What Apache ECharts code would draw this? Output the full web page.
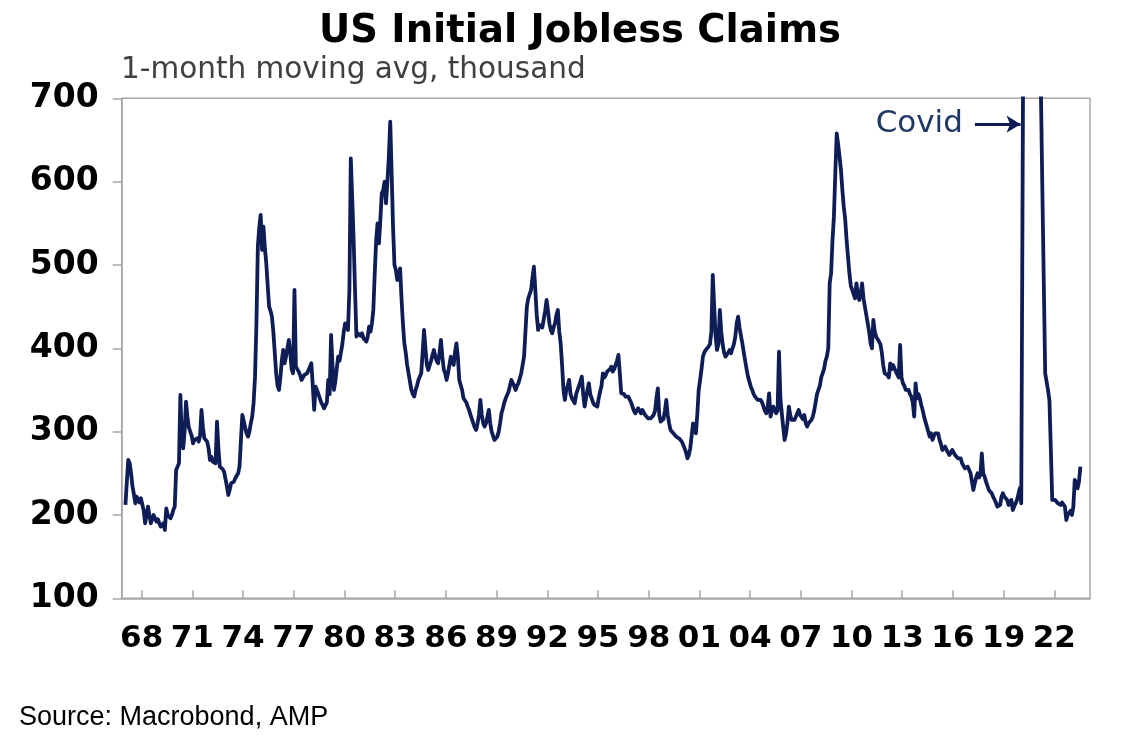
<!DOCTYPE html>
<html>
<head>
<meta charset="utf-8">
<script src="https://cdn.jsdelivr.net/npm/echarts@6/dist/echarts.min.js"></script>
<style>
  html, body { margin: 0; padding: 0; background: #ffffff; }
  #chart { width: 1123px; height: 744px; }
</style>
</head>
<body>
<div id="chart"></div>
<script>
// Monthly 1-month moving average of US initial jobless claims (thousand)
const firstYear = 1967;
const claims1960s = [
  212, 240, 266, 262, 250, 234, 225, 214, 222, 218, 215, 220,   // 1967
  218, 205, 190, 200, 210, 200, 190, 195, 200, 198, 192, 195,   // 1968
  190, 186, 188, 190, 182, 208, 200, 198, 196, 200, 206, 210    // 1969
];
const claims1970s = [
  254, 258, 262, 344, 290, 280, 300, 336, 318, 305, 300, 295,   // 1970
  286, 290, 288, 292, 288, 295, 326, 305, 292, 290, 288, 280,   // 1971
  266, 270, 264, 262, 262, 312, 280, 258, 260, 255, 252, 250,   // 1972
  235, 224, 230, 238, 236, 240, 244, 246, 250, 258, 290, 320,   // 1973
  320, 305, 298, 294, 300, 310, 318, 335, 366, 430, 522, 545,   // 1974
  560, 518, 546, 520, 502, 475, 450, 445, 438, 420, 395, 370,   // 1975
  355, 350, 365, 385, 398, 382, 390, 400, 410, 395, 375, 370,   // 1976
  470, 378, 375, 372, 368, 362, 365, 368, 366, 370, 372, 378,   // 1977
  382, 355, 326, 354, 350, 345, 340, 335, 332, 328, 326, 335,   // 1978
  362, 345, 416, 380, 350, 360, 375, 390, 385, 395, 405, 420    // 1979
];
const claims1980s = [
  430, 425, 422, 470, 628, 580, 530, 470, 414, 418, 420, 415,   // 1980
  418, 412, 410, 408, 414, 426, 420, 430, 446, 490, 530, 550,   // 1981
  526, 555, 586, 590, 600, 574, 600, 630, 672, 610, 545, 500,   // 1982
  494, 482, 485, 496, 460, 430, 406, 395, 380, 370, 360, 350,   // 1983
  345, 342, 350, 355, 362, 360, 370, 395, 422, 400, 380, 374,   // 1984
  374, 385, 392, 398, 390, 385, 382, 395, 410, 390, 375, 370,   // 1985
  362, 370, 380, 390, 385, 380, 395, 406, 390, 362, 360, 350,   // 1986
  340, 338, 335, 330, 326, 320, 315, 310, 305, 302, 310, 320,   // 1987
  338, 320, 310, 306, 310, 318, 326, 310, 300, 295, 290, 292,   // 1988
  294, 300, 310, 322, 328, 335, 340, 342, 348, 355, 362, 358    // 1989
];
const claims1990s = [
  355, 350, 355, 358, 360, 370, 380, 390, 420, 450, 460, 465,   // 1990
  470, 485, 498, 470, 440, 422, 428, 430, 425, 435, 445, 458,   // 1991
  445, 430, 422, 418, 425, 430, 440, 446, 420, 406, 380, 350,   // 1992
  338, 350, 355, 362, 345, 340, 338, 334, 345, 350, 355, 360,   // 1993
  366, 345, 330, 340, 350, 358, 345, 340, 335, 332, 334, 330,   // 1994
  340, 348, 355, 370, 365, 368, 372, 370, 375, 378, 372, 375,   // 1995
  380, 385, 392, 370, 346, 348, 345, 342, 340, 342, 340, 335,   // 1996
  330, 325, 322, 325, 328, 325, 322, 326, 328, 320, 318, 316,   // 1997
  314, 316, 318, 320, 325, 340, 352, 320, 312, 310, 315, 325,   // 1998
  338, 320, 310, 302, 300, 298, 296, 294, 295, 292, 290, 288    // 1999
];
const claims2000s = [
  286, 280, 275, 268, 272, 280, 295, 310, 305, 298, 320, 350,   // 2000
  362, 375, 390, 395, 398, 400, 402, 405, 420, 488, 450, 415,   // 2001
  398, 405, 446, 420, 405, 395, 390, 388, 395, 398, 394, 400,   // 2002
  405, 414, 430, 438, 425, 415, 406, 395, 385, 375, 366, 360,   // 2003
  354, 350, 345, 342, 340, 338, 340, 338, 335, 330, 325, 322,   // 2004
  330, 346, 318, 325, 330, 326, 322, 325, 396, 340, 322, 320,   // 2005
  290, 298, 310, 330, 320, 314, 312, 314, 318, 322, 326, 320,   // 2006
  318, 315, 320, 310, 306, 310, 312, 314, 318, 325, 335, 345,   // 2007
  350, 355, 365, 370, 375, 385, 390, 400, 478, 490, 530, 558,   // 2008
  610, 658, 645, 630, 614, 590, 570, 555, 530, 510, 490, 475    // 2009
];
const claims2010s = [
  470, 465, 460, 478, 465, 458, 465, 478, 460, 450, 440, 430,   // 2010
  420, 406, 400, 434, 420, 414, 414, 408, 405, 395, 380, 370,   // 2011
  372, 368, 365, 382, 375, 380, 378, 372, 370, 365, 404, 365,   // 2012
  358, 355, 350, 348, 350, 345, 342, 335, 318, 358, 340, 345,   // 2013
  340, 332, 326, 318, 312, 310, 300, 294, 298, 290, 295, 298,   // 2014
  300, 298, 290, 285, 278, 280, 282, 278, 275, 272, 270, 278,   // 2015
  278, 272, 270, 268, 270, 268, 262, 260, 256, 254, 258, 260,   // 2016
  250, 240, 230, 238, 245, 250, 245, 248, 274, 250, 246, 240,   // 2017
  235, 230, 228, 226, 222, 220, 215, 210, 208, 212, 222, 226,   // 2018
  222, 220, 218, 212, 215, 218, 206, 210, 212, 218, 225, 232    // 2019
];
const claims2020s = [
  214, 212, 1000, 4000, 3000, 1800, 1400, 1100, 900, 800, 760, 800,  // 2020
  850, 790, 705, 590, 480, 370, 360, 350, 338, 280, 218, 216,        // 2021
  218, 216, 214, 214, 212, 215, 214, 210, 194, 200, 202, 205,        // 2022
  200, 210, 242, 238, 232, 240, 258                                  // 2023
];
const tickYears = [1968, 1971, 1974, 1977, 1980, 1983, 1986, 1989, 1992, 1995,
                   1998, 2001, 2004, 2007, 2010, 2013, 2016, 2019, 2022];
const yTicks = { min: 100, max: 700, step: 100 };
const annotationText = 'Covid';

const allClaims = [].concat(claims1960s, claims1970s, claims1980s, claims1990s,
                            claims2000s, claims2010s, claims2020s);
const seriesData = allClaims.map((v, i) => [firstYear + (i + 0.5) / 12, v]);

const navy = '#0e1d55';
const axisGrey = '#a6a6a6';
const boldFont = 'DejaVu Sans';

const chart = echarts.init(document.getElementById('chart'), null, { renderer: 'canvas' });
chart.setOption({
  animation: false,
  backgroundColor: '#ffffff',
  title: [
    {
      text: 'US Initial Jobless Claims',
      left: 575, top: 7, textAlign: 'center',
      textStyle: { fontFamily: boldFont, fontWeight: 'bold', fontSize: 38.5, color: '#000000' }
    },
    {
      text: '1-month moving avg, thousand',
      left: 116, top: 50,
      textStyle: { fontFamily: 'DejaVu Sans', fontWeight: 'normal', fontSize: 29.5, color: '#404040' }
    },
    {
      text: 'Source: Macrobond, AMP',
      left: 14, top: 699,
      textStyle: { fontFamily: 'Liberation Sans', fontWeight: 'normal', fontSize: 27, color: '#000000' }
    }
  ],
  grid: {
    left: 121.7, right: 33, top: 98.3, bottom: 145.7,
    show: true, borderColor: axisGrey, borderWidth: 1.5, backgroundColor: 'transparent'
  },
  xAxis: {
    type: 'value',
    min: 1966.82, max: 2024.11,
    axisLine: { show: true, lineStyle: { color: axisGrey, width: 1.5 } },
    axisTick: { show: true, inside: true, length: 8, customValues: tickYears,
                lineStyle: { color: axisGrey, width: 1.5 } },
    axisLabel: {
      customValues: tickYears,
      formatter: v => String(Math.round(v)).slice(2),
      margin: 25,
      fontFamily: boldFont, fontWeight: 'bold', fontSize: 31, color: '#000000'
    },
    splitLine: { show: false }
  },
  yAxis: {
    type: 'value',
    min: yTicks.min, max: yTicks.max, interval: yTicks.step,
    axisLine: { show: true, lineStyle: { color: axisGrey, width: 1.5 } },
    axisTick: { show: true, inside: false, length: 9, lineStyle: { color: axisGrey, width: 1.5 } },
    axisLabel: {
      margin: 23,
      fontFamily: boldFont, fontWeight: 'bold', fontSize: 33, color: '#000000'
    },
    splitLine: { show: false }
  },
  series: [{
    type: 'line',
    data: seriesData,
    showSymbol: false,
    symbol: 'none',
    clip: true,
    lineStyle: { color: navy, width: 3.8, join: 'round' },
    markLine: {
      silent: true,
      animation: false,
      symbol: ['none', 'arrow'],
      symbolSize: [13, 14],
      lineStyle: { color: navy, width: 3, type: 'solid' },
      label: {
        show: true, position: 'start', distance: 12,
        formatter: annotationText,
        fontFamily: 'DejaVu Sans', fontSize: 31, color: '#1f3864'
      },
      data: [[
        { coord: [2017.3, 669] },
        { coord: [2020.0, 669] }
      ]]
    }
  }]
});
</script>
</body>
</html>
